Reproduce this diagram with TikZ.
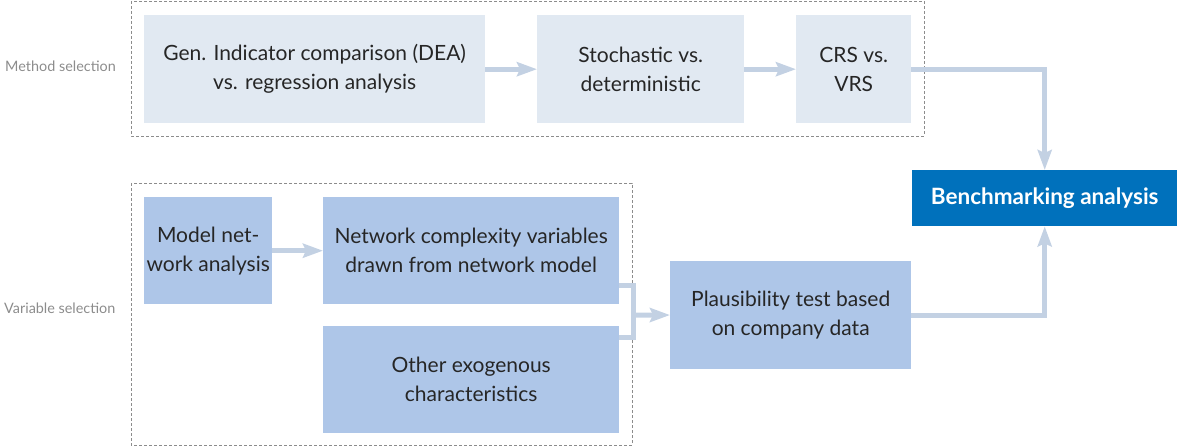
\documentclass[tikz,border=0pt]{standalone}
\usepackage{fontspec}
\setmainfont{Lato}
\usepackage{tikz}
\usetikzlibrary{calc}
\usetikzlibrary{positioning}
\usetikzlibrary{arrows.meta}
\definecolor{methodfill}{HTML}{E1E9F2}
\definecolor{varfill}{HTML}{AEC6E8}
\definecolor{benchfill}{HTML}{0071BC}
\definecolor{linkcol}{HTML}{C3D1E3}
\definecolor{framecol}{HTML}{8C8C8C}
\definecolor{textcol}{HTML}{262626}
\tikzstyle{stepbox} = [rectangle, anchor=north west, align=center, text=textcol, font=\fontsize{21}{29}\selectfont, inner sep=0pt]
\tikzstyle{methodbox} = [stepbox, fill=methodfill]
\tikzstyle{varbox} = [stepbox, fill=varfill]
\tikzstyle{groupframe} = [draw=framecol, dashed, dash pattern=on 3pt off 2pt, line width=0.8pt]
\tikzstyle{grouplabel} = [text=framecol, font=\fontsize{14.4}{17}\selectfont, inner sep=0pt]
\tikzstyle{link} = [draw=linkcol, line width=5pt]
\tikzstyle{flow} = [link, -{Stealth[length=20pt, width=14pt, inset=3pt]}]

\begin{document}
\begin{tikzpicture}[x=1pt, y=-1pt]
\useasboundingbox (0,0) rectangle (1177,446);

% frames and their labels
\draw[groupframe] (131,1) rectangle (924,136);
\draw[groupframe] (131,183) rectangle (632,445);
\node[grouplabel, anchor=west] (lmethod) at (5,66) {Method selection};
\node[grouplabel, anchor=west] (lvar) at (4,308) {Variable selection};

% method selection
\node[methodbox, minimum width=341pt, minimum height=108pt] (gen) at (144,15) {Gen. Indicator comparison (DEA)\\vs. regression analysis};
\node[methodbox, minimum width=207pt, minimum height=108pt] (stoch) at (537,15) {Stochastic vs.\\deterministic};
\node[methodbox, minimum width=115pt, minimum height=108pt] (crs) at (796,15) {CRS vs.\\VRS};

% variable selection
\node[varbox, minimum width=128pt, minimum height=107pt] (model) at (144,197) {Model net-\\work analysis};
\node[varbox, minimum width=296pt, minimum height=107pt] (net) at (323,197) {Network complexity variables\\drawn from network model};
\node[varbox, minimum width=296pt, minimum height=107pt] (other) at (323,326) {Other exogenous\\characteristics};
\node[varbox, minimum width=241pt, minimum height=108pt] (plaus) at (670,261) {Plausibility test based\\on company data};

% result
\node[stepbox, fill=benchfill, text=white, font=\bfseries\fontsize{22.5}{29}\selectfont, minimum width=265pt, minimum height=56pt] (bench) at (912,170) {Benchmarking analysis};

% connectors
\draw[flow] (gen) -- (stoch);
\draw[flow] (stoch) -- (crs);
\draw[flow] (crs.east) -| (bench.north);
\draw[flow] (model) -- (net);
\coordinate (merge) at (633,315);
\draw[link] ($(net.south east)+(0,-19)$) -| (merge) |- ($(other.north east)+(0,11)$);
\draw[flow] (merge) -- (plaus);
\draw[flow] (plaus.east) -| (bench.south);
\end{tikzpicture}
\end{document}
